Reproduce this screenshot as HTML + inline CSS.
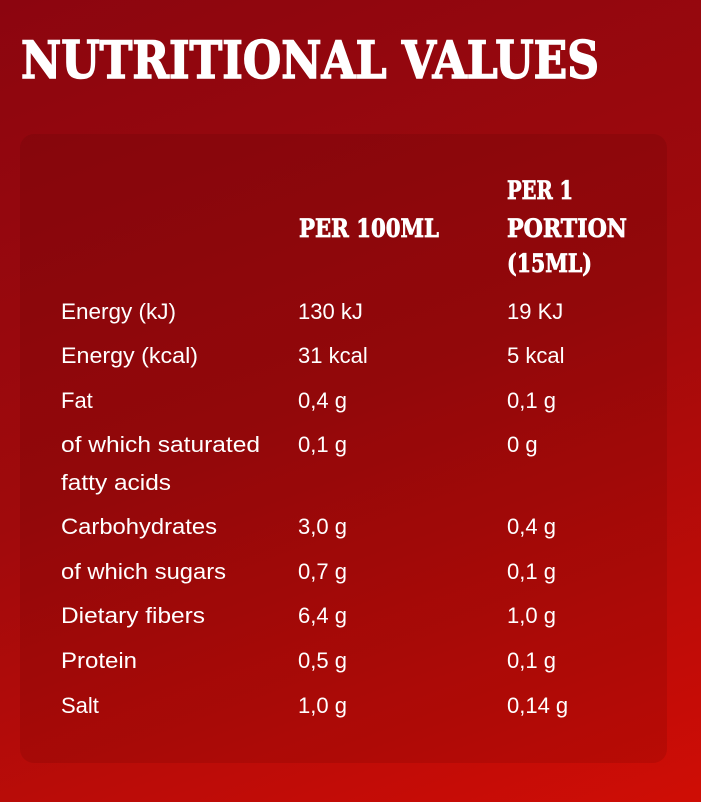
<!DOCTYPE html>
<html><head><meta charset="utf-8"><style>
html,body{margin:0;padding:0}
body{width:701px;height:802px;overflow:hidden;background:linear-gradient(160deg,#8c050f 0%,#a00a0c 50%,#cf0d05 100%)}
svg{display:block}
.t{font-family:"DejaVu Serif","Liberation Serif",serif;font-weight:bold;fill:#fff;stroke:#fff}
.b{font-family:"Liberation Sans",sans-serif;font-size:22px;fill:#fff}
</style></head><body>
<svg width="701" height="802" viewBox="0 0 701 802">
<rect x="20" y="134" width="647" height="629" rx="14" fill="rgba(60,0,0,0.12)"/>
<text class="t" x="21" y="78" font-size="51" stroke-width="1.5" textLength="578" lengthAdjust="spacingAndGlyphs">NUTRITIONAL VALUES</text>
<g stroke-width="0.8">
<text class="t" x="299" y="237" font-size="25" textLength="140" lengthAdjust="spacingAndGlyphs">PER 100ML</text>
<text class="t" x="507" y="199" font-size="25" textLength="66" lengthAdjust="spacingAndGlyphs">PER 1</text>
<text class="t" x="507" y="237" font-size="25" textLength="120" lengthAdjust="spacingAndGlyphs">PORTION</text>
<text class="t" x="507" y="272" font-size="25" textLength="85" lengthAdjust="spacingAndGlyphs">(15ML)</text>
</g>
<g class="b">
<text x="61" y="319" textLength="115" lengthAdjust="spacingAndGlyphs">Energy (kJ)</text>
<text x="298" y="319">130 kJ</text><text x="507" y="319">19 KJ</text>
<text x="61" y="363" textLength="137" lengthAdjust="spacingAndGlyphs">Energy (kcal)</text>
<text x="298" y="363">31 kcal</text><text x="507" y="363">5 kcal</text>
<text x="61" y="408">Fat</text>
<text x="298" y="408">0,4 g</text><text x="507" y="408">0,1 g</text>
<text x="61" y="452" textLength="199" lengthAdjust="spacingAndGlyphs">of which saturated</text>
<text x="298" y="452">0,1 g</text><text x="507" y="452">0 g</text>
<text x="61" y="490" textLength="110" lengthAdjust="spacingAndGlyphs">fatty acids</text>
<text x="61" y="534" textLength="156" lengthAdjust="spacingAndGlyphs">Carbohydrates</text>
<text x="298" y="534">3,0 g</text><text x="507" y="534">0,4 g</text>
<text x="61" y="579" textLength="165" lengthAdjust="spacingAndGlyphs">of which sugars</text>
<text x="298" y="579">0,7 g</text><text x="507" y="579">0,1 g</text>
<text x="61" y="623" textLength="144" lengthAdjust="spacingAndGlyphs">Dietary fibers</text>
<text x="298" y="623">6,4 g</text><text x="507" y="623">1,0 g</text>
<text x="61" y="668" textLength="76" lengthAdjust="spacingAndGlyphs">Protein</text>
<text x="298" y="668">0,5 g</text><text x="507" y="668">0,1 g</text>
<text x="61" y="713">Salt</text>
<text x="298" y="713">1,0 g</text><text x="507" y="713">0,14 g</text>
</g>
</svg>
</body></html>
